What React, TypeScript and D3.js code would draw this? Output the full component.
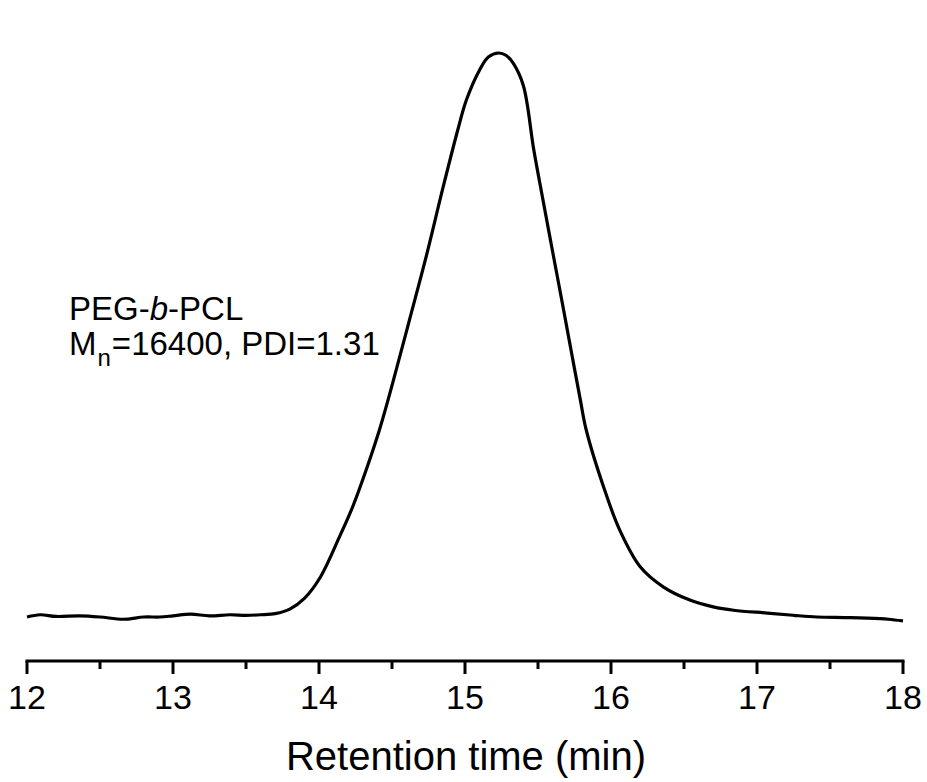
import React from "react";
import * as d3 from "d3";

const retentionTime = [
  12.0, 12.09, 12.2, 12.36, 12.5, 12.66, 12.8, 12.91, 13.0, 13.12, 13.25, 13.39, 13.5, 13.6, 13.7, 13.8, 13.9,
  14.01, 14.14, 14.23, 14.33, 14.42, 14.51, 14.62, 14.74, 14.85, 14.95, 15.01, 15.1, 15.16, 15.23, 15.28, 15.33,
  15.4, 15.47, 15.53, 15.6, 15.67, 15.73, 15.79, 15.83, 15.95, 16.06, 16.2, 16.36, 16.54, 16.7, 16.84, 17.07,
  17.25, 17.41, 17.6, 17.75, 17.9, 18.0,
];
const signal = [
  0.0, 0.004, 0.001, 0.002, 0.0, -0.004, 0.0, 0.0, 0.002, 0.005, 0.002, 0.004, 0.003, 0.004, 0.006, 0.014, 0.033,
  0.071, 0.142, 0.195, 0.266, 0.337, 0.42, 0.527, 0.645, 0.762, 0.863, 0.917, 0.97, 0.993, 1.0, 0.996, 0.982,
  0.942, 0.83, 0.745, 0.648, 0.552, 0.468, 0.385, 0.332, 0.23, 0.154, 0.089, 0.053, 0.03, 0.018, 0.012, 0.007,
  0.003, 0.0, -0.001, -0.002, -0.004, -0.007,
];
const majorTicks = [12, 13, 14, 15, 16, 17, 18];
const minorTicks = [12.5, 13.5, 14.5, 15.5, 16.5, 17.5];
const xTitle = "Retention time (min)";
const sampleName = ["PEG-", "b", "-PCL"];
const sampleStats = ["M", "n", "=16400, PDI=1.31"];

export default function App() {
  const W = 927;
  const H = 782;
  const x = d3.scaleLinear().domain([12, 18]).range([27, 903]);
  const y = d3.scaleLinear().domain([0, 1]).range([617, 53]);
  const axisY = 661;
  const pts: [number, number][] = retentionTime.map((t, i) => [t, signal[i]]);
  const line = d3
    .line<[number, number]>()
    .x((d) => x(d[0]))
    .y((d) => y(d[1]))
    .curve(d3.curveCatmullRom.alpha(0.5));
  const font = "Arial, 'Liberation Sans', sans-serif";
  return (
    <svg
      width={W}
      height={H}
      style={{ position: "absolute", left: 0, top: 0, background: "#fff" }}
      fontFamily={font}
    >
      <rect x={0} y={0} width={W} height={H} fill="#fff" />
      <path d={line(pts) || ""} fill="none" stroke="#000" strokeWidth={3.2} strokeLinejoin="round" />
      <line x1={x(12)} x2={x(18)} y1={axisY} y2={axisY} stroke="#000" strokeWidth={3} strokeLinecap="square" />
      {majorTicks.map((t) => (
        <g key={"M" + t}>
          <line x1={x(t)} x2={x(t)} y1={axisY} y2={axisY + 13} stroke="#000" strokeWidth={3} />
          <text x={x(t)} y={709} textAnchor="middle" fontSize={34} fill="#000">
            {t}
          </text>
        </g>
      ))}
      {minorTicks.map((t) => (
        <line key={"m" + t} x1={x(t)} x2={x(t)} y1={axisY} y2={axisY + 8} stroke="#000" strokeWidth={3} />
      ))}
      <text x={(x(12) + x(18)) / 2 + 1} y={770} textAnchor="middle" fontSize={40} fill="#000">
        {xTitle}
      </text>
      <text x={69} y={320} fontSize={33} fill="#000">
        {sampleName[0]}
        <tspan fontStyle="italic">{sampleName[1]}</tspan>
        {sampleName[2]}
      </text>
      <text x={69} y={355} fontSize={33} fill="#000">
        {sampleStats[0]}
        <tspan fontSize={24} dy={11} dx={1}>{sampleStats[1]}</tspan>
        <tspan dy={-11} dx={1}>{sampleStats[2]}</tspan>
      </text>
    </svg>
  );
}
